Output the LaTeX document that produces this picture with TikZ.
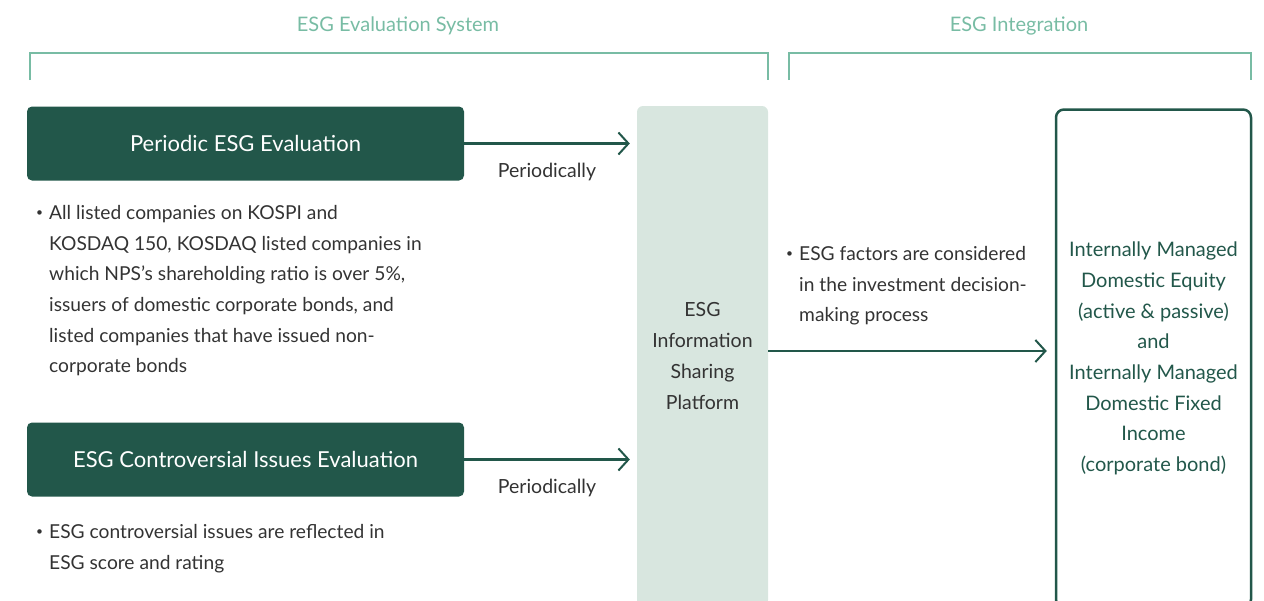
\documentclass[tikz,border=0pt]{standalone}
\usepackage{fontspec}
\setmainfont{Lato}
\usetikzlibrary{arrows.meta}
\definecolor{deepgreen}{HTML}{22574A}
\definecolor{mint}{HTML}{78BCA4}
\definecolor{platfill}{HTML}{D8E6DF}
\definecolor{bodytext}{HTML}{333333}
\newcommand{\notebullet}{\llap{\raisebox{2.5pt}{\fontsize{12}{12}\selectfont\textbullet}\hspace{6pt}}}
\begin{document}
\begin{tikzpicture}[x=1pt,y=-1pt,
  heading/.style={text=mint, font=\fontsize{20}{24}\selectfont, inner sep=0},
  bracket/.style={draw=mint, line width=1.5pt},
  evalbox/.style={fill=deepgreen, rounded corners=5pt, text=white,
    font=\fontsize{22}{26}\selectfont, minimum width=437pt, minimum height=74pt, inner sep=0},
  platbox/.style={fill=platfill, rounded corners=6pt, text=bodytext, align=center,
    font=\fontsize{19.5}{30.7}\selectfont, minimum width=131pt, minimum height=500pt, inner sep=0},
  targetbox/.style={draw=deepgreen, line width=2.5pt, rounded corners=8pt, text=deepgreen, align=center,
    font=\fontsize{20}{30.7}\selectfont, minimum width=195pt, minimum height=498pt, inner sep=0},
  flow/.style={draw=deepgreen, line width=2.2pt,
    -{Straight Barb[length=10pt,width=22pt,line width=2pt]}},
  steplabel/.style={text=bodytext, font=\fontsize{19.5}{24}\selectfont, inner sep=0},
  note/.style={text=bodytext, font=\fontsize{19.2}{30.7}\selectfont, align=left,
    anchor=north west, inner sep=0},
]
\clip (0,0) rectangle (1264,600);

% section headings and their brackets
\node[heading] (evalhead) at (398,26) {ESG Evaluation System};
\node[heading] (integhead) at (1019,26) {ESG Integration};
\draw[bracket] (30,80) -- (30,53) -- (768,53) -- (768,80);
\draw[bracket] (789,80) -- (789,53) -- (1251,53) -- (1251,80);

% evaluation boxes
\node[evalbox] (periodic) at (245.5,143.5) {Periodic ESG Evaluation};
\node[evalbox] (controv) at (245.5,459.5) {ESG Controversial Issues Evaluation};

% platform column and target box
\node[platbox] (platform) at (702.5,356) {ESG\\Information\\Sharing\\Platform};
\node[targetbox] (target) at (1153.5,358.5) {Internally Managed\\Domestic Equity\\(active \& passive)\\and\\Internally Managed\\Domestic Fixed\\Income\\(corporate bond)};

% connectors
\coordinate (platout) at (platform.east |- 0,351);
\draw[flow, shorten >=7pt] (periodic.east) -- (periodic.east -| platform.west);
\draw[flow, shorten >=7pt] (controv.east) -- (controv.east -| platform.west);
\draw[flow, shorten >=8pt] (platout) -- (platout -| target.west);

\node[steplabel] (lbl1) at (547,172) {Periodically};
\node[steplabel] (lbl2) at (547,488) {Periodically};

% notes
\node[note] (note1) at (49,205) {\notebullet All listed companies on KOSPI and\\
KOSDAQ 150, KOSDAQ listed companies in\\
which NPS’s shareholding ratio is over 5\%,\\
issuers of domestic corporate bonds, and\\
listed companies that have issued non-\\
corporate bonds};
\node[note] (note2) at (49,524) {\notebullet ESG controversial issues are reflected in\\
ESG score and rating};
\node[note] (note3) at (799,246) {\notebullet ESG factors are considered\\
in the investment decision-\\
making process};
\end{tikzpicture}
\end{document}
